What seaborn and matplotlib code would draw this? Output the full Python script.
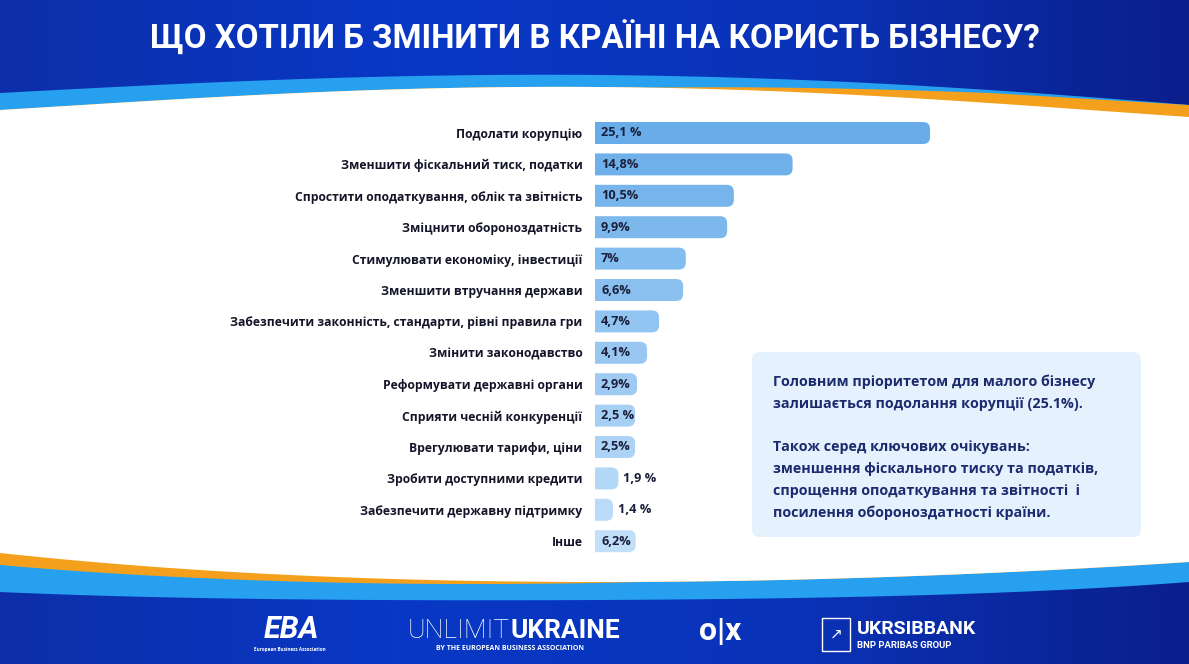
import numpy as np
import matplotlib
matplotlib.use("Agg")
import matplotlib.pyplot as plt
from matplotlib.patches import FancyBboxPatch, Rectangle
from matplotlib.colors import LinearSegmentedColormap
import seaborn as sns

# --- data ---
categories = [
    "Подолати корупцію",
    "Зменшити фіскальний тиск, податки",
    "Спростити оподаткування, облік та звітність",
    "Зміцнити обороноздатність",
    "Стимулювати економіку, інвестиції",
    "Зменшити втручання держави",
    "Забезпечити законність, стандарти, рівні правила гри",
    "Змінити законодавство",
    "Реформувати державні органи",
    "Сприяти чесній конкуренції",
    "Врегулювати тарифи, ціни",
    "Зробити доступними кредити",
    "Забезпечити державну підтримку",
    "Інше",
]
shares = [25.1, 14.8, 10.5, 9.9, 7.0, 6.6, 4.7, 4.1, 2.9, 2.5, 2.5, 1.9, 1.4, 6.2]
value_labels = ["25,1 %", "14,8%", "10,5%", "9,9%", "7%", "6,6%", "4,7%", "4,1%",
                "2,9%", "2,5 %", "2,5%", "1,9 %", "1,4 %", "6,2%"]
# bar lengths as drawn in the infographic (small bars padded to fit the label)
bar_len = [25.1, 14.8, 10.4, 9.9, 6.8, 6.6, 4.8, 3.9, 3.15, 3.0, 3.0, 1.75, 1.35, 3.05]

title = "ЩО ХОТІЛИ Б ЗМІНИТИ В КРАЇНІ НА КОРИСТЬ БІЗНЕСУ?"
note_lines = [
    "Головним пріоритетом для малого бізнесу",
    "залишається подолання корупції (25.1%).",
    "",
    "Також серед ключових очікувань:",
    "зменшення фіскального тиску та податків,",
    "спрощення оподаткування та звітності  і",
    "посилення обороноздатності країни.",
]

W, H = 1189, 664
FONT = ["Open Sans", "DejaVu Sans"]
LIGHT = "#27a0f0"
ORANGE = "#f5a01c"
INK = "#15152a"

sns.set_style("white")
plt.rcParams["font.family"] = FONT

fig = plt.figure(figsize=(W / 100, H / 100), dpi=100)

# --- background ---
bg = fig.add_axes([0, 0, 1, 1], zorder=0)
bg.set_xlim(0, W)
bg.set_ylim(H, 0)
bg.axis("off")

cmap = LinearSegmentedColormap.from_list("hdr", ["#0d2ea8", "#0838c6", "#0a33b8", "#0a1f8c"])
grad = np.linspace(0, 1, 256)[None, :]
bg.imshow(grad, extent=[0, W, H, 0], aspect="auto", cmap=cmap, zorder=0)


def curve(pts, x):
    px, py = zip(*pts)
    return np.polyval(np.polyfit(px, py, len(px) - 1), x)


x = np.linspace(0, W, 600)
dark_top = curve([(0, 93), (200, 83), (600, 75), (989, 90), (1189, 105)], x)
white_top = curve([(0, 110), (200, 98), (600, 87), (989, 103), (1189, 117)], x)
orange_top = np.interp(x, [0, 650, 989, 1189], [0, 0, 10, 12])
white_bot = curve([(0, 553), (200, 570), (600, 582), (989, 573), (1189, 562)], x)
orange_bot = np.interp(x, [0, 200, 650, 1189], [12, 8, 0, 0])
dark_bot = curve([(0, 592), (200, 598), (600, 600), (989, 593), (1189, 582)], x)

bg.fill_between(x, dark_top, white_top + 1, color=LIGHT, lw=0, zorder=1)
bg.fill_between(x, white_top - orange_top, white_top + 1, color=ORANGE, lw=0, zorder=2)
bg.fill_between(x, white_bot - 1, dark_bot, color=LIGHT, lw=0, zorder=1)
bg.fill_between(x, white_bot - 1, white_bot + orange_bot, color=ORANGE, lw=0, zorder=2)
bg.fill_between(x, white_top, white_bot, color="white", lw=0, zorder=3)

bg.text(W / 2, 38, title, ha="center", va="center", color="white",
        fontsize=23.8, fontweight="bold", family=["Roboto", "DejaVu Sans"], zorder=5)

# note box
bg.add_patch(FancyBboxPatch((752, 352), 389, 185, boxstyle="round,pad=0,rounding_size=8",
                            fc="#e5f1fd", ec="none", zorder=4))
for i, line in enumerate(note_lines):
    bg.text(773, 382 + i * 21.8, line, ha="left", va="center", color="#1c2a6e",
            fontsize=10.3, fontweight="bold", zorder=5)

# footer logos
bg.text(291, 630, "EBA", ha="center", va="center", color="white", fontsize=22,
        fontweight="bold", fontstyle="italic", family=["Roboto"], zorder=5)
bg.text(290, 650, "European Business Association", ha="center", va="center",
        color="white", fontsize=3.3, fontweight="bold", zorder=5)
bg.text(510, 631, "UNLIMIT", ha="right", va="center", color="white", fontsize=19,
        fontweight="light", family=["Roboto"], zorder=5)
bg.text(510, 631, "UKRAINE", ha="left", va="center", color="white", fontsize=19,
        fontweight="bold", family=["Roboto"], zorder=5)
bg.text(510, 648, "BY THE EUROPEAN BUSINESS ASSOCIATION", ha="center", va="center",
        color="white", fontsize=5, fontweight="bold", zorder=5)
bg.text(720, 631, "o|x", ha="center", va="center", color="white", fontsize=23,
        fontweight="bold", family=["Roboto"], zorder=5)
bg.add_patch(Rectangle((822, 618), 28, 33, fc="none", ec="white", lw=1, zorder=5))
bg.text(836, 634, "↗", ha="center", va="center", color="white", fontsize=11,
        family=["DejaVu Sans"], zorder=5)
bg.text(857, 629, "UKRSIBBANK", ha="left", va="center", color="white", fontsize=14,
        fontweight="bold", family=["Roboto"], zorder=5)
bg.text(857, 646, "BNP PARIBAS GROUP", ha="left", va="center", color="white",
        fontsize=6.8, fontweight="bold", family=["Roboto"], zorder=5)

# --- bar chart ---
px_per_unit = 13.35
row_px = 31.4
ax_w = 400
top_px = 133 - row_px / 2
ax_h = row_px * len(categories)
ax = fig.add_axes([595 / W, 1 - (top_px + ax_h) / H, ax_w / W, ax_h / H], zorder=2)
ax.patch.set_alpha(0)

palette = sns.blend_palette(["#68ace9", "#c1dff9"], len(categories))
sns.barplot(x=bar_len, y=categories, hue=categories, palette=palette, legend=False,
            width=0.7, orient="h", saturation=1, ax=ax)
ax.set_xlim(0, ax_w / px_per_unit)
ax.set_ylim(len(categories) - 0.5, -0.5)

# rounded bars, square left edge hidden behind the axis clip
aspect = px_per_unit / row_px
r = 7 / px_per_unit
for p in list(ax.patches):
    x0, y0, w, h = p.get_x(), p.get_y(), p.get_width(), p.get_height()
    fc = p.get_facecolor()
    p.remove()
    ax.add_patch(FancyBboxPatch((x0 - 1, y0), w + 1, h,
                                boxstyle=f"round,pad=0,rounding_size={r}",
                                mutation_aspect=aspect, fc=fc, ec="none"))

for i, (bl, lab) in enumerate(zip(bar_len, value_labels)):
    xpos = 6 / px_per_unit if bl >= 2.5 else bl + 5 / px_per_unit
    ax.text(xpos, i, lab, ha="left", va="center", color="#1b1f3a",
            fontsize=9.2, fontweight="bold")

ax.set_xlabel("")
ax.set_ylabel("")
ax.set_xticks([])
ax.tick_params(axis="y", length=0, pad=9)
for t in ax.get_yticklabels():
    t.set_fontweight("bold")
    t.set_fontsize(8.7)
    t.set_color(INK)
sns.despine(ax=ax, left=True, bottom=True)

fig.savefig("out.png", dpi=100)
